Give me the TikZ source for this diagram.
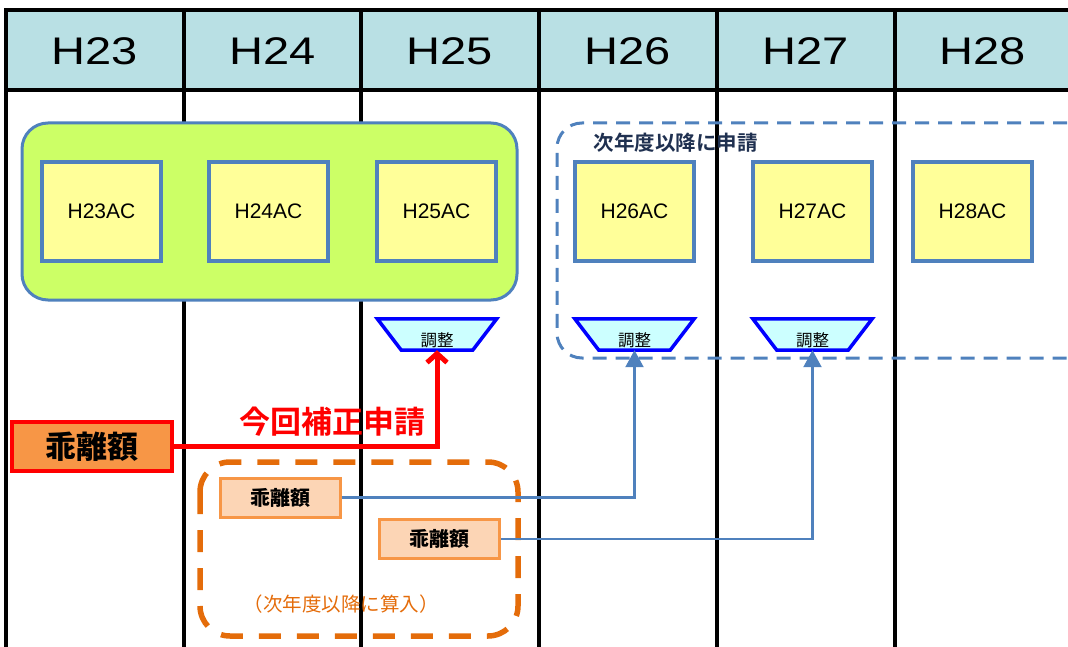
\documentclass[tikz,border=0pt]{standalone}
\usepackage{fontspec}
\setmainfont{Liberation Sans}
\newfontfamily\jp{Noto Sans CJK JP}[BoldFont={Noto Sans CJK JP Bold}]
\newfontfamily\jpk{Noto Sans CJK JP Black}
\usetikzlibrary{arrows.meta}
\definecolor{hdr}{HTML}{B9E0E4}
\definecolor{grn}{HTML}{CCFF66}
\definecolor{ylw}{HTML}{FFFF99}
\definecolor{bbd}{HTML}{4F81BD}
\definecolor{cyn}{HTML}{CCFFFF}
\definecolor{org}{HTML}{F79646}
\definecolor{lorg}{HTML}{FCD5B5}
\definecolor{dorg}{HTML}{E46C0A}
\definecolor{navy}{HTML}{1F3050}
\newcommand{\yr}[1]{\scalebox{1.22}[1]{#1}}
\tikzset{
  colline/.style={line width=3.5pt,black},
  yearlbl/.style={font=\fontsize{38.5}{38.5}\selectfont,inner sep=0pt},
  ac/.style={draw=bbd,line width=3.5pt,fill=ylw,minimum width=119pt,minimum height=99pt,inner sep=0pt,font=\fontsize{21}{21}\selectfont},
  trapbox/.style={minimum width=119pt,minimum height=31pt,inner sep=0pt},
  trapline/.style={draw=blue,line width=3.5pt,fill=cyn,line join=miter},
  traptext/.style={font=\jp\fontsize{16.5}{16.5}\selectfont,inner sep=0pt},
  bigbox/.style={draw=red,line width=3.5pt,fill=org,minimum width=160pt,minimum height=49pt,inner sep=0pt,
    font=\jpk\fontsize{31}{31}\selectfont},
  smallbox/.style={draw=org,line width=3pt,fill=lorg,minimum width=120pt,minimum height=39pt,inner sep=0pt,
    font=\jpk\fontsize{20}{20}\selectfont},
  blueline/.style={draw=bbd,line width=2.2pt,-{Triangle[length=17pt,width=18pt]}},
  redline/.style={draw=red,line width=5pt,-{Straight Barb[length=9pt,width=20pt,line width=5pt]}},
}
\newcommand{\trapdraw}[1]{%
  \filldraw[trapline] (#1.north west) -- (#1.north east) -- ([xshift=-24pt]#1.south east) -- ([xshift=24pt]#1.south west) -- cycle;}
\begin{document}
\begin{tikzpicture}[x=1pt,y=-1pt]
\useasboundingbox (0,0) rectangle (1068,647);
\clip (0,0) rectangle (1068,647);
% header
\fill[hdr] (6,10) rectangle (1068,90);
\draw[colline] (4.25,10) -- (1068,10);
\draw[colline] (4.25,90) -- (1068,90);
\foreach \x in {6,184,361,539,717,895} {\draw[colline] (\x,10) -- (\x,647);}
\node[yearlbl] (y23) at (95,51.5) {\yr{H23}};
\node[yearlbl] (y24) at (272.5,51.5) {\yr{H24}};
\node[yearlbl] (y25) at (450,51.5) {\yr{H25}};
\node[yearlbl] (y26) at (628,51.5) {\yr{H26}};
\node[yearlbl] (y27) at (806,51.5) {\yr{H27}};
\node[yearlbl] (y28) at (983,51.5) {\yr{H28}};
% green group box
\node[draw=bbd,line width=3pt,fill=grn,rounded corners=26pt,minimum width=495pt,minimum height=177pt,inner sep=0pt] (grp) at (269.5,211.5) {};
% AC boxes
\node[ac] (a23) at (101.5,211.5) {H23AC};
\node[ac] (a24) at (268.5,211.5) {H24AC};
\node[ac] (a25) at (436.5,211.5) {H25AC};
\node[ac] (a26) at (634.5,211.5) {H26AC};
\node[ac] (a27) at (812.5,211.5) {H27AC};
\node[ac] (a28) at (972.5,211.5) {H28AC};
% blue dashed group
\draw[bbd,line width=3pt,dash pattern=on 14pt off 9pt,rounded corners=25pt] (1090,123) -- (557,123) -- (557,358) -- (1090,358);
\node[font=\jp\bfseries\fontsize{20.5}{20.5}\selectfont,text=navy,anchor=west] (nxt) at (590,143) {次年度以降に申請};
% trapezoids
\node[trapbox] (t25) at (437,334.5) {};
\node[trapbox] (t26) at (634.5,334.5) {};
\node[trapbox] (t27) at (812.5,334.5) {};
\trapdraw{t25}\trapdraw{t26}\trapdraw{t27}
\node[traptext] (c25) at ([yshift=-5.5pt]t25.center) {調整};
\node[traptext] (c26) at ([yshift=-5.5pt]t26.center) {調整};
\node[traptext] (c27) at ([yshift=-5.5pt]t27.center) {調整};
% orange dashed box
\draw[dorg,line width=5.5pt,dash pattern=on 22pt off 16pt,rounded corners=30pt] (200,462) rectangle (518,636);
\node[font=\jp\fontsize{19.5}{19.5}\selectfont,text=dorg] (inc) at (341,604) {（次年度以降に算入）};
% difference boxes
\node[bigbox] (big) at (92,446.5) {乖離額};
\node[smallbox] (g1) at (280,497.5) {乖離額};
\node[smallbox] (g2) at (439.5,539) {乖離額};
% connectors
\draw[blueline] (g1.east) -| (t26.south);
\draw[blueline] (g2.east) -| (t27.south);
\draw[redline] (big.east) -| (t25.south);
\node[font=\jp\bfseries\fontsize{31}{31}\selectfont,text=red] (cur) at (332,422) {今回補正申請};
\end{tikzpicture}
\end{document}
